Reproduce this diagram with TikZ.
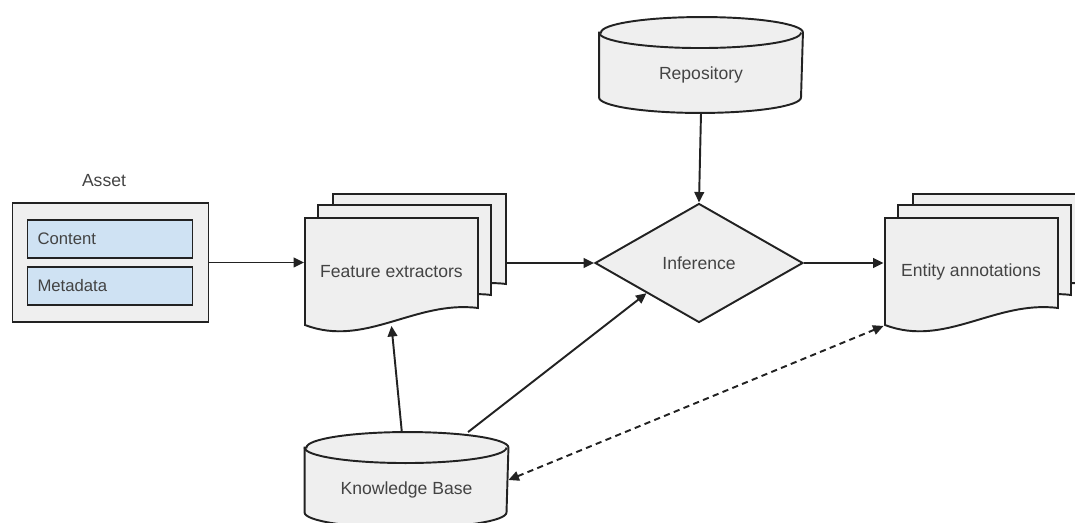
\documentclass[tikz,border=0pt]{standalone}
\usepackage{fontspec}
\setmainfont{Liberation Sans}
\usetikzlibrary{shapes.geometric, arrows.meta, backgrounds}
\definecolor{shapefill}{HTML}{EFEFEF}
\definecolor{fieldfill}{HTML}{CFE2F3}
\definecolor{labelgray}{HTML}{434343}
\definecolor{edgeblack}{HTML}{222222}

\begin{document}
\begin{tikzpicture}[x=0.02cm, y=-0.02cm, line width=1.1pt,
    >={Triangle[length=6pt, width=5.5pt]},
    lbl/.style={text=labelgray, font=\fontsize{10}{12}\selectfont},
    box/.style={draw=edgeblack, fill=shapefill, line width=1.1pt},
    field/.style={draw=edgeblack, fill=fieldfill, minimum height=0.76cm, text width=2.9cm,
        inner xsep=0.2cm, align=left, text=labelgray, font=\fontsize{9.5}{11}\selectfont},
    db/.style={inner sep=0pt, minimum width=4.04cm, minimum height=1.88cm,
        label={[lbl, yshift=-0.19cm]center:#1}},
    rim/.style={x radius=2.02cm, y radius=0.31cm},
    decision/.style={box, lbl, diamond, aspect=1.75, inner sep=0pt,
        minimum width=4.16cm, minimum height=2.38cm},
    docpage/.style={lbl, minimum width=3.46cm, minimum height=2.14cm},
    link/.style={->, draw=edgeblack}]

    \useasboundingbox (0,0) rectangle (1075,523);

    % stacked documents
    \foreach \base in {0, 580} {
        \foreach \dx/\dy in {28/-24, 13/-13, 0/0} {
            \draw[box, shift={(\base+\dx,\dy)}] (305,325) -- (305,218) -- (478,218) -- (478,308)
                .. controls (415,300) and (365,348) .. (305,325) -- cycle;
        }
    }
    \node[docpage] (fe) at (391.5,271.5) {Feature extractors};
    \node[docpage] (ea) at (971,271.5) {Entity annotations};
    \coordinate (fe out) at (507,263);

    % asset
    \node[box, minimum width=3.92cm, minimum height=2.38cm] (asset) at (110.5,262.5) {};
    \node[lbl] (asset name) at (104,181) {Asset};
    \node[field] (content) at (110,239) {Content};
    \node[field] (meta) at (110,286) {Metadata};

    % stores and inference
    \node[db=Repository] (repo) at (701,65) {};
    \node[db=Knowledge Base] (kb) at (406.5,480) {};
    \node[decision] (inf) at (699,263) {Inference};

    % cylinders behind their labels
    \begin{scope}[on background layer]
        \foreach \store in {repo, kb} {
            \draw[box] ([yshift=-0.31cm]\store.north west) -- ([yshift=0.31cm]\store.south west)
                arc[start angle=180, end angle=360, rim] -- ([yshift=-0.31cm]\store.north east)
                arc[start angle=0, end angle=180, rim] -- cycle;
            \draw[box, fill=none] ([yshift=-0.31cm]\store.north west) arc[start angle=180, end angle=360, rim];
        }
    \end{scope}

    \draw[link] (asset.east) -- (asset.east -| fe.west);
    \draw[link] (fe out) -- (inf.west);
    \draw[link] (inf.east) -- (inf.east -| ea.west);
    \draw[link] (repo.south) -- (inf.north);
    \draw[link] (kb) -- (fe.south);
    \draw[link] (kb) -- (inf.south west);
    \draw[link, <->, dash pattern=on 3.5pt off 2.5pt] (kb.east) -- (ea.south west);
\end{tikzpicture}
\end{document}
